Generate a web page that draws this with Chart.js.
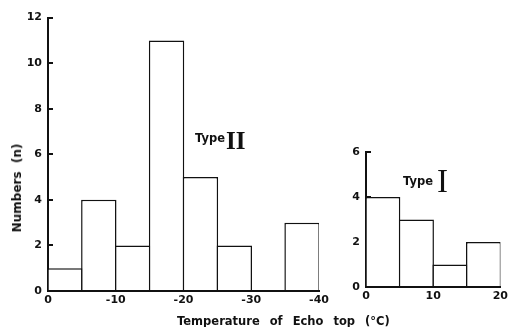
<!DOCTYPE html>
<html>
<head>
<meta charset="utf-8">
<script src="https://cdn.jsdelivr.net/npm/chart.js@4.4.1/dist/chart.umd.min.js"></script>
<style>
  body { margin: 0; background: #fff; }
  #wrap { position: relative; width: 511px; height: 327px; overflow: hidden; font-family: "DejaVu Sans", sans-serif; color: #111; }
  canvas { position: absolute; top: 0; }
  #c1 { left: 0; }
  #c2 { left: 330px; }
  .txt { position: absolute; white-space: nowrap; font-weight: bold; }
  .roman { position: absolute; font-family: "Liberation Serif", serif; line-height: 1; font-weight: bold; }
</style>
</head>
<body>
<div id="wrap">
  <canvas id="c1" width="345" height="327"></canvas>
  <canvas id="c2" width="181" height="327"></canvas>
  <div class="txt" id="ylab" style="left:17px; top:188px; font-size:12px; transform: translate(-50%,-50%) rotate(-90deg);">Numbers&nbsp;&nbsp;(n)</div>
  <div class="txt" style="left:177px; top:314px; font-size:11.5px; word-spacing:6px;">Temperature of Echo top (°C)</div>
  <div class="txt" style="left:195px; top:131px; font-size:11.5px;">Type</div>
  <div class="roman" style="left:226px; top:128px; font-size:25px;">II</div>
  <div class="txt" style="left:403px; top:174px; font-size:11.5px;">Type</div>
  <div class="roman" style="left:437px; top:165px; font-size:33px; font-weight:normal;">I</div>
</div>
<script>
// Type II: echo top temperature bins (0 to -40 °C, 5 degree steps)
const type2Centers = [-2.5, -7.5, -12.5, -17.5, -22.5, -27.5, -32.5, -37.5];
const type2Counts = [1, 4, 2, 11, 5, 2, 0, 3];

// Type I: echo top temperature bins (0 to 20 °C)
const type1Centers = [2.5, 7.5, 12.5, 17.5];
const type1Counts = [4, 3, 1, 2];

const tickFont = { family: 'DejaVu Sans', size: 11, weight: 'bold' };

function makeChart(id, centers, counts, xMin, xMax, reverse, yMax, pad, yWidth, xHeight) {
  const pts = centers.map((c, i) => ({ x: c, y: counts[i] }));
  return new Chart(document.getElementById(id), {
    type: 'bar',
    data: {
      datasets: [{
        data: pts,
        backgroundColor: '#fff',
        borderColor: '#111',
        borderWidth: 1.5,
        borderSkipped: 'bottom',
        // slightly over 1 so neighbouring borders overlap into one line
        barPercentage: 1.045,
        categoryPercentage: 1
      }]
    },
    options: {
      responsive: false,
      animation: false,
      layout: { padding: pad },
      plugins: { legend: { display: false }, tooltip: { enabled: false } },
      scales: {
        x: {
          type: 'linear',
          offset: false,
          min: xMin,
          max: xMax,
          reverse: reverse,
          grid: { display: false, drawTicks: false },
          border: { display: true, color: '#111', width: 2 },
          ticks: { stepSize: 10, color: '#111', font: tickFont, padding: 3, maxRotation: 0 },
          afterFit: (s) => { s.height = xHeight; }
        },
        y: {
          min: 0,
          max: yMax,
          grid: { display: true, drawOnChartArea: false, drawTicks: true, tickLength: -5, color: '#111', lineWidth: 2 },
          border: { display: true, color: '#111', width: 2 },
          ticks: { stepSize: 2, color: '#111', font: tickFont, padding: 11 },
          afterFit: (s) => { s.width = yWidth; }
        }
      }
    }
  });
}

makeChart('c1', type2Centers, type2Counts, -40, 0, true, 12,
  { left: 0, top: 16, right: 26, bottom: 0 }, 48, 36);
makeChart('c2', type1Centers, type1Counts, 0, 20, false, 6,
  { left: 0, top: 152, right: 9, bottom: 0 }, 36, 40);
</script>
</body>
</html>
